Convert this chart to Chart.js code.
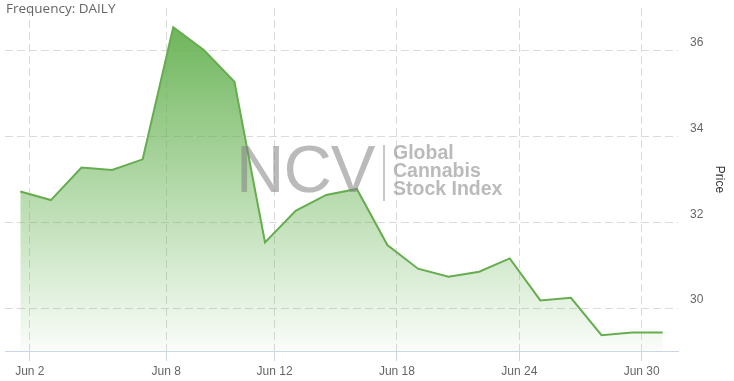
<!DOCTYPE html>
<html>
<head>
<meta charset="utf-8">
<script src="https://cdn.jsdelivr.net/npm/chart.js@4/dist/chart.umd.min.js"></script>
<style>
  html, body { margin: 0; padding: 0; background: #fff; }
  #wrap { position: relative; width: 734px; height: 381px; overflow: hidden; }
  canvas { display: block; }
  #freq { position: absolute; left: 6px; top: -1px; font: 13.5px "Open Sans", sans-serif; color: #666; }
  #wm { position: absolute; left: 236px; top: 131px; pointer-events: none; color: rgba(130,130,130,0.55); font-family: "Liberation Sans", Arial, sans-serif; }
  #wm .ncv { position: absolute; left: 0; top: 0; font-size: 67px; line-height: 76px; letter-spacing: -1px; }
  #wm .sep { position: absolute; left: 147px; top: 14px; width: 2px; height: 56px; background: rgba(130,130,130,0.45); }
  #wm .txt { position: absolute; left: 157px; top: 12px; font-size: 19.5px; font-weight: bold; line-height: 18px; white-space: nowrap; }
</style>
</head>
<body>
<div id="wrap">
  <canvas id="c" width="734" height="381"></canvas>
  <div id="freq">Frequency: DAILY</div>
  <div id="wm"><div class="ncv">NCV</div><div class="sep"></div><div class="txt">Global<br>Cannabis<br>Stock Index</div></div>
</div>
<script>
// ---- data ----
const tradingDates = ['2020-06-01','2020-06-02','2020-06-03','2020-06-04','2020-06-05',
  '2020-06-08','2020-06-09','2020-06-10','2020-06-11','2020-06-12',
  '2020-06-15','2020-06-16','2020-06-17','2020-06-18','2020-06-19',
  '2020-06-22','2020-06-23','2020-06-24','2020-06-25','2020-06-26',
  '2020-06-29','2020-06-30'];
const prices = [32.72, 32.52, 33.28, 33.22, 33.47, 36.55, 36.02, 35.28, 31.53, 32.27, 32.64,
  32.78, 31.47, 30.92, 30.73, 30.85, 31.16, 30.18, 30.24, 29.37, 29.43, 29.43];
const xTickDates = ['2020-06-02','2020-06-08','2020-06-12','2020-06-18','2020-06-24','2020-06-30'];
const xTickLabels = ['Jun 2','Jun 8','Jun 12','Jun 18','Jun 24','Jun 30'];
const yTicks = [30, 32, 34, 36];
const yTitle = 'Price';

// ordinal (trading-day) positions for the date ticks
const pointTimes = tradingDates.map(d => Date.parse(d + 'T16:30:00Z'));
function ordinalPos(dateStr) {
  const t = Date.parse(dateStr + 'T00:00:00Z');
  for (let i = 0; i < pointTimes.length - 1; i++) {
    if (t >= pointTimes[i] && t < pointTimes[i + 1]) {
      return i + (t - pointTimes[i]) / (pointTimes[i + 1] - pointTimes[i]);
    }
  }
  return pointTimes.length - 1;
}
const xTickPos = xTickDates.map(ordinalPos);

const lineColor = '#66ad4f';
const gridColor = '#dadada';
const axisColor = '#ccd6eb';

new Chart(document.getElementById('c'), {
  type: 'line',
  data: {
    datasets: [{
      data: prices.map((v, i) => ({ x: i, y: v })),
      borderColor: lineColor,
      borderWidth: 2,
      pointRadius: 0,
      tension: 0,
      fill: 'start',
      backgroundColor: (ctx) => {
        const area = ctx.chart.chartArea;
        if (!area) return 'rgba(106,180,85,0.5)';
        const g = ctx.chart.ctx.createLinearGradient(0, area.top, 0, area.bottom);
        g.addColorStop(0, 'rgba(102,178,82,1)');
        g.addColorStop(1, 'rgba(102,178,82,0.03)');
        return g;
      }
    }]
  },
  options: {
    responsive: false,
    animation: false,
    devicePixelRatio: 1,
    layout: { padding: { left: 5, top: 8, right: 0, bottom: 0 } },
    plugins: { legend: { display: false }, tooltip: { enabled: false }, title: { display: false } },
    scales: {
      x: {
        type: 'linear',
        min: -0.5,
        max: prices.length - 0.5,
        afterBuildTicks: (scale) => { scale.ticks = xTickPos.map(v => ({ value: v })); },
        afterFit: (scale) => { scale.height = 30; scale.paddingLeft = 0; scale.paddingRight = 0; },
        grid: {
          color: gridColor,
          lineWidth: 1,
          drawTicks: true,
          tickLength: 10,
          tickColor: axisColor,
          tickBorderDash: []
        },
        border: { display: true, color: axisColor, width: 1, dash: [8, 4] },
        ticks: {
          autoSkip: false,
          maxRotation: 0,
          padding: 3,
          color: '#666',
          font: { family: '"Liberation Sans", Arial, sans-serif', size: 12 },
          callback: (value, index) => xTickLabels[index]
        }
      },
      y: {
        position: 'right',
        min: 29,
        max: 37,
        afterBuildTicks: (scale) => { scale.ticks = yTicks.map(v => ({ value: v })); },
        afterFit: (scale) => { scale.width = 56; scale.paddingTop = 0; scale.paddingBottom = 0; },
        grid: { color: gridColor, lineWidth: 1, drawTicks: false },
        border: { display: false, dash: [8, 4] },
        ticks: {
          padding: 12,
          labelOffset: -8,
          color: '#666',
          font: { family: '"Liberation Sans", Arial, sans-serif', size: 12 }
        },
        title: {
          display: true,
          text: yTitle,
          color: '#333',
          padding: { top: 7, bottom: 0 },
          font: { family: '"Liberation Sans", Arial, sans-serif', size: 12 }
        }
      }
    }
  }
});
</script>
</body>
</html>
